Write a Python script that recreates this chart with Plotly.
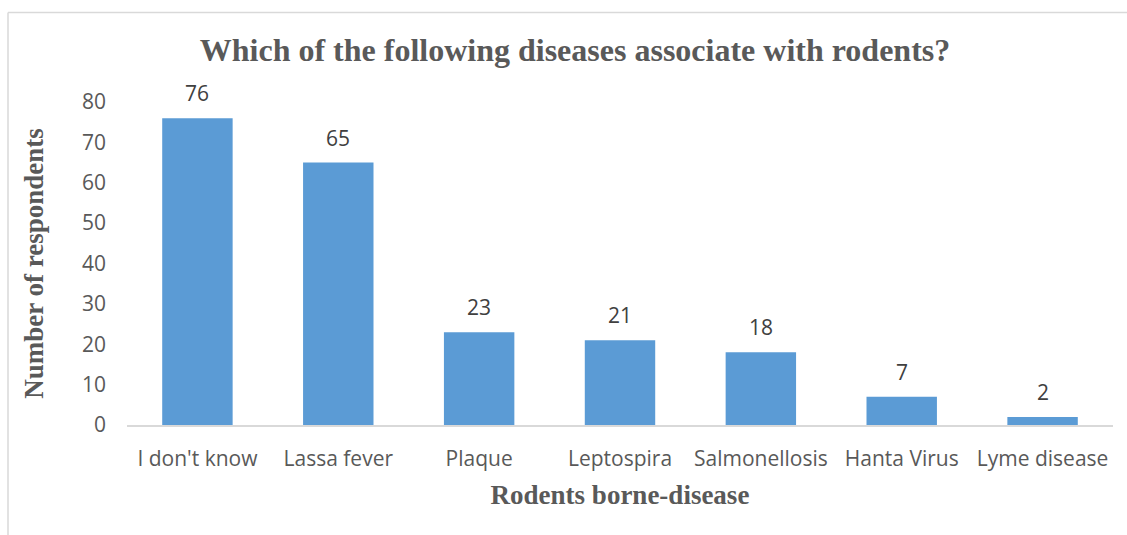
import plotly.graph_objects as go

diseases = ["I don't know", "Lassa fever", "Plaque", "Leptospira",
            "Salmonellosis", "Hanta Virus", "Lyme disease"]
respondents = [76, 65, 23, 21, 18, 7, 2]
y_ticks = [0, 10, 20, 30, 40, 50, 60, 70, 80]

W, H = 1127, 535
ML, MR, MT, MB = 127, 14, 102, 110
pw, ph = W - ML - MR, H - MT - MB

SANS = "Open Sans, Liberation Sans, sans-serif"
SERIF = "Liberation Serif, Times New Roman, serif"

fig = go.Figure(
    go.Bar(
        x=diseases,
        y=respondents,
        marker=dict(color="#5b9bd5", line=dict(width=0)),
        cliponaxis=False,
    )
)

# value labels above each bar
for name, val in zip(diseases, respondents):
    fig.add_annotation(x=name, y=val, text=str(val), showarrow=False,
                       yanchor="middle", yshift=25,
                       font=dict(family=SANS, size=21, color="#404040"))

fig.update_layout(
    width=W,
    height=H,
    margin=dict(l=ML, r=MR, t=MT, b=MB),
    paper_bgcolor="white",
    plot_bgcolor="white",
    bargap=0.5,
    showlegend=False,
    title=dict(
        text="<b>Which of the following diseases associate with rodents?</b>",
        font=dict(family=SERIF, size=32, color="#595959"),
        x=575 / W, xanchor="center",
        y=1 - 50 / H, yanchor="middle",
    ),
    xaxis=dict(
        showline=True, linecolor="#d9d9d9", linewidth=1.5,
        ticks="", showgrid=False,
        ticklabelstandoff=14,
        tickfont=dict(family=SANS, size=21, color="#595959"),
        title=dict(
            text="<b>Rodents borne-disease</b>",
            font=dict(family=SERIF, size=27, color="#595959"),
            standoff=14,
        ),
    ),
    yaxis=dict(
        range=[0, 80],
        tickvals=y_ticks,
        showgrid=False, zeroline=False, showline=False, ticks="",
        ticklabelstandoff=20,
        tickfont=dict(family=SANS, size=21, color="#595959"),
        title=dict(
            text="<b>Number of respondents</b>",
            font=dict(family=SERIF, size=27, color="#595959"),
            standoff=30,
        ),
    ),
)

# chart-area frame (open on the right and bottom)
fx0 = (8 - ML) / pw
fy1 = 1 + (MT - 12.5) / ph
fig.add_shape(type="line", xref="paper", yref="paper",
              x0=fx0, x1=(W + 5 - ML) / pw, y0=fy1, y1=fy1,
              line=dict(color="#d9d9d9", width=1.5))
fig.add_shape(type="line", xref="paper", yref="paper",
              x0=fx0, x1=fx0, y0=fy1, y1=-(MB + 5) / ph,
              line=dict(color="#d9d9d9", width=1.5))

fig.write_html("out.html")
